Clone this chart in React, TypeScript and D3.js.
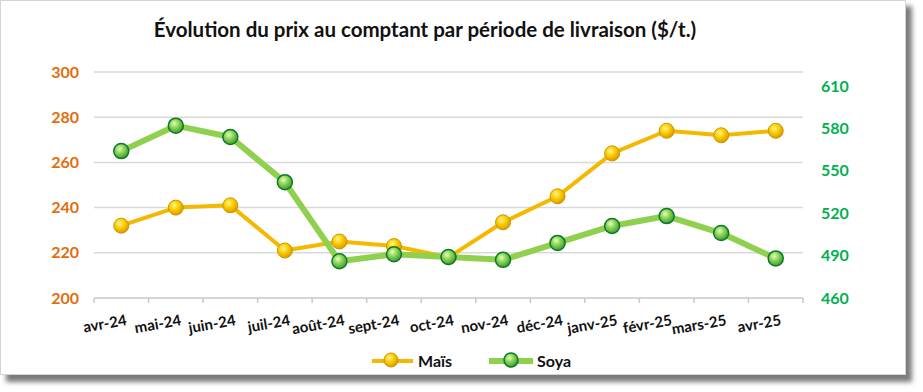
import React from "react";
import * as d3 from "d3";

const months = [
  "avr-24", "mai-24", "juin-24", "juil-24", "août-24", "sept-24", "oct-24",
  "nov-24", "déc-24", "janv-25", "févr-25", "mars-25", "avr-25",
];
const mais = [232, 240, 241, 221, 225, 223, 218, 233.5, 245, 264, 274, 272, 274];
const soya = [564, 582, 574, 542, 486, 491, 489, 487, 499, 511, 518, 506, 488];
const leftTicks = [200, 220, 240, 260, 280, 300];
const rightTicks = [460, 490, 520, 550, 580, 610];

const W = 923;
const H = 392;
const plotLeft = 94;
const plotRight = 803;
const plotTop = 72;
const plotBottom = 298;
const font = "Lato, 'Open Sans', sans-serif";

export default function App() {
  const x = d3.scaleBand<string>().domain(months).range([plotLeft, plotRight]);
  const yL = d3.scaleLinear().domain([200, 300]).range([plotBottom, plotTop]);
  const yR = d3.scaleLinear().domain([460, 620]).range([plotBottom, plotTop]);
  const cx = (m: string) => (x(m) ?? 0) + x.bandwidth() / 2;

  const maisLine = d3.line<number>().x((_, i) => cx(months[i])).y((d) => yL(d));
  const soyaLine = d3.line<number>().x((_, i) => cx(months[i])).y((d) => yR(d));

  const ticksX = d3.range(months.length + 1).map((i) => plotLeft + i * x.bandwidth());

  return (
    <svg
      width={W}
      height={H}
      style={{ position: "fixed", left: 0, top: 0, background: "#fff" }}
    >
      <defs>
        <filter id="shadow" x="-5%" y="-5%" width="115%" height="120%">
          <feGaussianBlur stdDeviation="2.5" />
        </filter>
        <radialGradient id="gold" cx="40%" cy="35%" r="65%">
          <stop offset="0%" stopColor="#fff6a0" />
          <stop offset="45%" stopColor="#ffd000" />
          <stop offset="100%" stopColor="#d99a00" />
        </radialGradient>
        <radialGradient id="green" cx="40%" cy="35%" r="65%">
          <stop offset="0%" stopColor="#e4ffb8" />
          <stop offset="45%" stopColor="#8fd45a" />
          <stop offset="100%" stopColor="#3f9e2c" />
        </radialGradient>
      </defs>

      {/* frame with shadow */}
      <rect x={6} y={6} width={906} height={376} fill="#7a7a7a" filter="url(#shadow)" />
      <rect x={0.5} y={0.5} width={905} height={374} fill="#fff" stroke="#d4d4d4" />

      <text
        x={425}
        y={37}
        textAnchor="middle"
        fontFamily={font}
        fontWeight="bold"
        fontSize={20.5}
        fill="#111"
      >
        Évolution du prix au comptant par période de livraison ($/t.)
      </text>

      {/* gridlines */}
      {leftTicks.map((t) => (
        <line
          key={t}
          x1={plotLeft}
          x2={plotRight}
          y1={yL(t)}
          y2={yL(t)}
          stroke={t === 200 ? "#c8c8c8" : "#d9d9d9"}
          strokeWidth={1.5}
        />
      ))}
      {ticksX.map((tx, i) => (
        <line key={i} x1={tx} x2={tx} y1={plotBottom} y2={plotBottom + 5} stroke="#c8c8c8" strokeWidth={1.5} />
      ))}

      {/* left axis */}
      {leftTicks.map((t) => (
        <text
          key={t}
          x={79}
          y={yL(t) + 5.5}
          textAnchor="end"
          fontFamily={font}
          fontWeight="bold"
          fontSize={16}
          fill="#e46c0a"
        >
          {t}
        </text>
      ))}
      {/* right axis */}
      {rightTicks.map((t) => (
        <text
          key={t}
          x={821}
          y={yR(t) + 5.5}
          textAnchor="start"
          fontFamily={font}
          fontWeight="bold"
          fontSize={16}
          fill="#00b050"
        >
          {t}
        </text>
      ))}

      {/* x labels */}
      {months.map((m) => (
        <text
          key={m}
          transform={`translate(${cx(m) + 6},${325}) rotate(-10)`}
          textAnchor="end"
          fontFamily={font}
          fontWeight="bold"
          fontSize={15}
          fill="#111"
        >
          {m}
        </text>
      ))}

      {/* series */}
      <path d={maisLine(mais) ?? ""} fill="none" stroke="#f5b800" strokeWidth={4} strokeLinejoin="round" />
      <path d={soyaLine(soya) ?? ""} fill="none" stroke="#8fd14f" strokeWidth={6} strokeLinejoin="round" />
      {mais.map((v, i) => (
        <circle key={"m" + i} cx={cx(months[i])} cy={yL(v)} r={7.5} fill="url(#gold)" stroke="#c99700" strokeWidth={1} />
      ))}
      {soya.map((v, i) => (
        <circle key={"s" + i} cx={cx(months[i])} cy={yR(v)} r={7.5} fill="url(#green)" stroke="#0a7a2a" strokeWidth={1.5} />
      ))}

      {/* legend */}
      <g>
        <line x1={372} x2={413} y1={361} y2={361} stroke="#f5b800" strokeWidth={4} />
        <circle cx={391} cy={360} r={7} fill="url(#gold)" stroke="#c99700" strokeWidth={1} />
        <text x={418} y={367} fontFamily={font} fontWeight="bold" fontSize={16} fill="#111">
          Maïs
        </text>
        <line x1={489} x2={533} y1={361} y2={361} stroke="#8fd14f" strokeWidth={6} />
        <circle cx={511} cy={360} r={7} fill="url(#green)" stroke="#0a7a2a" strokeWidth={1.5} />
        <text x={537} y={367} fontFamily={font} fontWeight="bold" fontSize={16} fill="#111">
          Soya
        </text>
      </g>
    </svg>
  );
}
